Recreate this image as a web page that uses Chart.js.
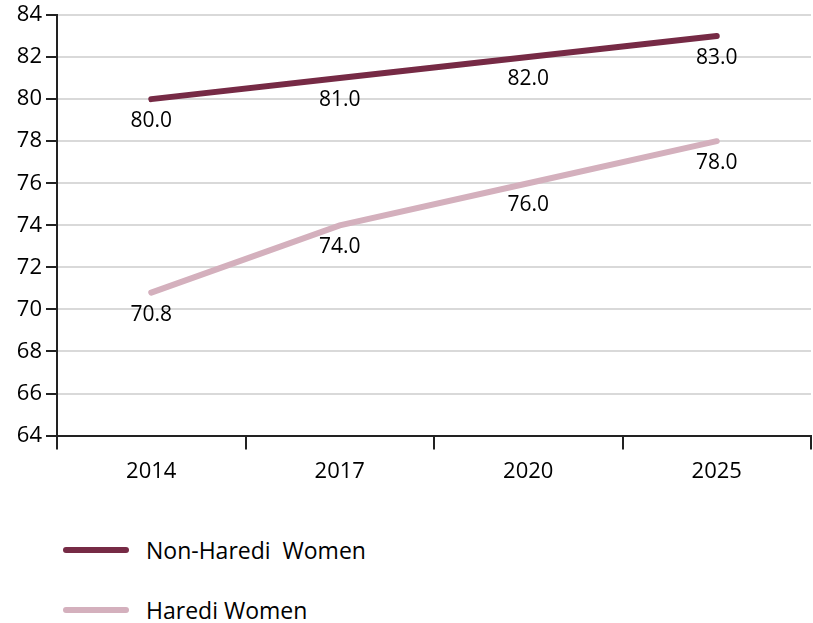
<!DOCTYPE html>
<html>
<head>
<meta charset="utf-8">
<script src="https://cdn.jsdelivr.net/npm/chart.js@4"></script>
<style>
  html, body { margin: 0; padding: 0; background: #fff; }
  body { width: 813px; height: 623px; position: relative; font-family: "Open Sans", sans-serif; }
  #wrap { position: absolute; left: 0; top: 0; width: 813px; height: 494px; }
  .legend { position: absolute; left: 63px; font-size: 23px; line-height: 30px; color: #000; }
  .legend span.ln { display: inline-block; width: 66px; height: 6px; border-radius: 3px; vertical-align: middle; margin-right: 17px; }
  .legend span.tx { vertical-align: middle; }
</style>
</head>
<body>
<div id="wrap"><canvas id="myChart"></canvas></div>
<div class="legend" style="top:532px"><span class="ln" style="background:#762a45"></span><span class="tx">Non-Haredi&nbsp; Women</span></div>
<div class="legend" style="top:592px"><span class="ln" style="background:#d4b0bd"></span><span class="tx">Haredi Women</span></div>
<script>
const years = ["2014", "2017", "2020", "2025"];
const nonHarediWomen = [80.0, 81.0, 82.0, 83.0];
const harediWomen = [70.8, 74.0, 76.0, 78.0];
const yTicks = [64, 66, 68, 70, 72, 74, 76, 78, 80, 82, 84];

const darkColor = "#762a45";
const lightColor = "#d4b0bd";

// draws the value under each point
const labelsBelow = {
    id: "labelsBelow",
    afterDatasetsDraw(chart) {
        const ctx = chart.ctx;
        ctx.save();
        ctx.font = "21px 'Open Sans'";
        ctx.fillStyle = "#000";
        ctx.textAlign = "center";
        ctx.textBaseline = "middle";
        chart.data.datasets.forEach((ds, i) => {
            chart.getDatasetMeta(i).data.forEach((pt, j) => {
                ctx.fillText(ds.data[j].toFixed(1), pt.x, pt.y + 22);
            });
        });
        ctx.restore();
    }
};

new Chart(document.getElementById("myChart").getContext("2d"), {
    type: "line",
    data: {
        labels: years,
        datasets: [
            {
                label: "Non-Haredi  Women",
                data: nonHarediWomen,
                borderColor: darkColor,
                borderWidth: 6,
                borderCapStyle: "round",
                pointRadius: 0,
                fill: false
            },
            {
                label: "Haredi Women",
                data: harediWomen,
                borderColor: lightColor,
                borderWidth: 6,
                borderCapStyle: "round",
                pointRadius: 0,
                fill: false
            }
        ]
    },
    options: {
        responsive: true,
        maintainAspectRatio: false,
        animation: false,
        layout: { padding: { top: 2, right: 2, left: 0, bottom: 0 } },
        plugins: {
            legend: { display: false },
            tooltip: { enabled: false }
        },
        scales: {
            x: {
                offset: true,
                grid: {
                    offset: true,
                    drawOnChartArea: false,
                    color: "#222",
                    tickLength: 14,
                    lineWidth: 2
                },
                border: { color: "#222", width: 2 },
                ticks: {
                    color: "#000",
                    font: { family: "Open Sans", size: 22 },
                    padding: 9
                }
            },
            y: {
                min: 64,
                max: 84,
                afterBuildTicks(axis) {
                    axis.ticks = yTicks.map(v => ({ value: v }));
                },
                afterFit(axis) { axis.width = 57; },
                grid: {
                    color: "#d9d9d9",
                    tickColor: "#222",
                    tickLength: 11,
                    lineWidth: 2
                },
                border: { color: "#222", width: 2 },
                ticks: {
                    color: "#000",
                    font: { family: "Open Sans", size: 22, lineHeight: 1 },
                    padding: 4
                }
            }
        }
    },
    plugins: [labelsBelow]
});
</script>
</body>
</html>
